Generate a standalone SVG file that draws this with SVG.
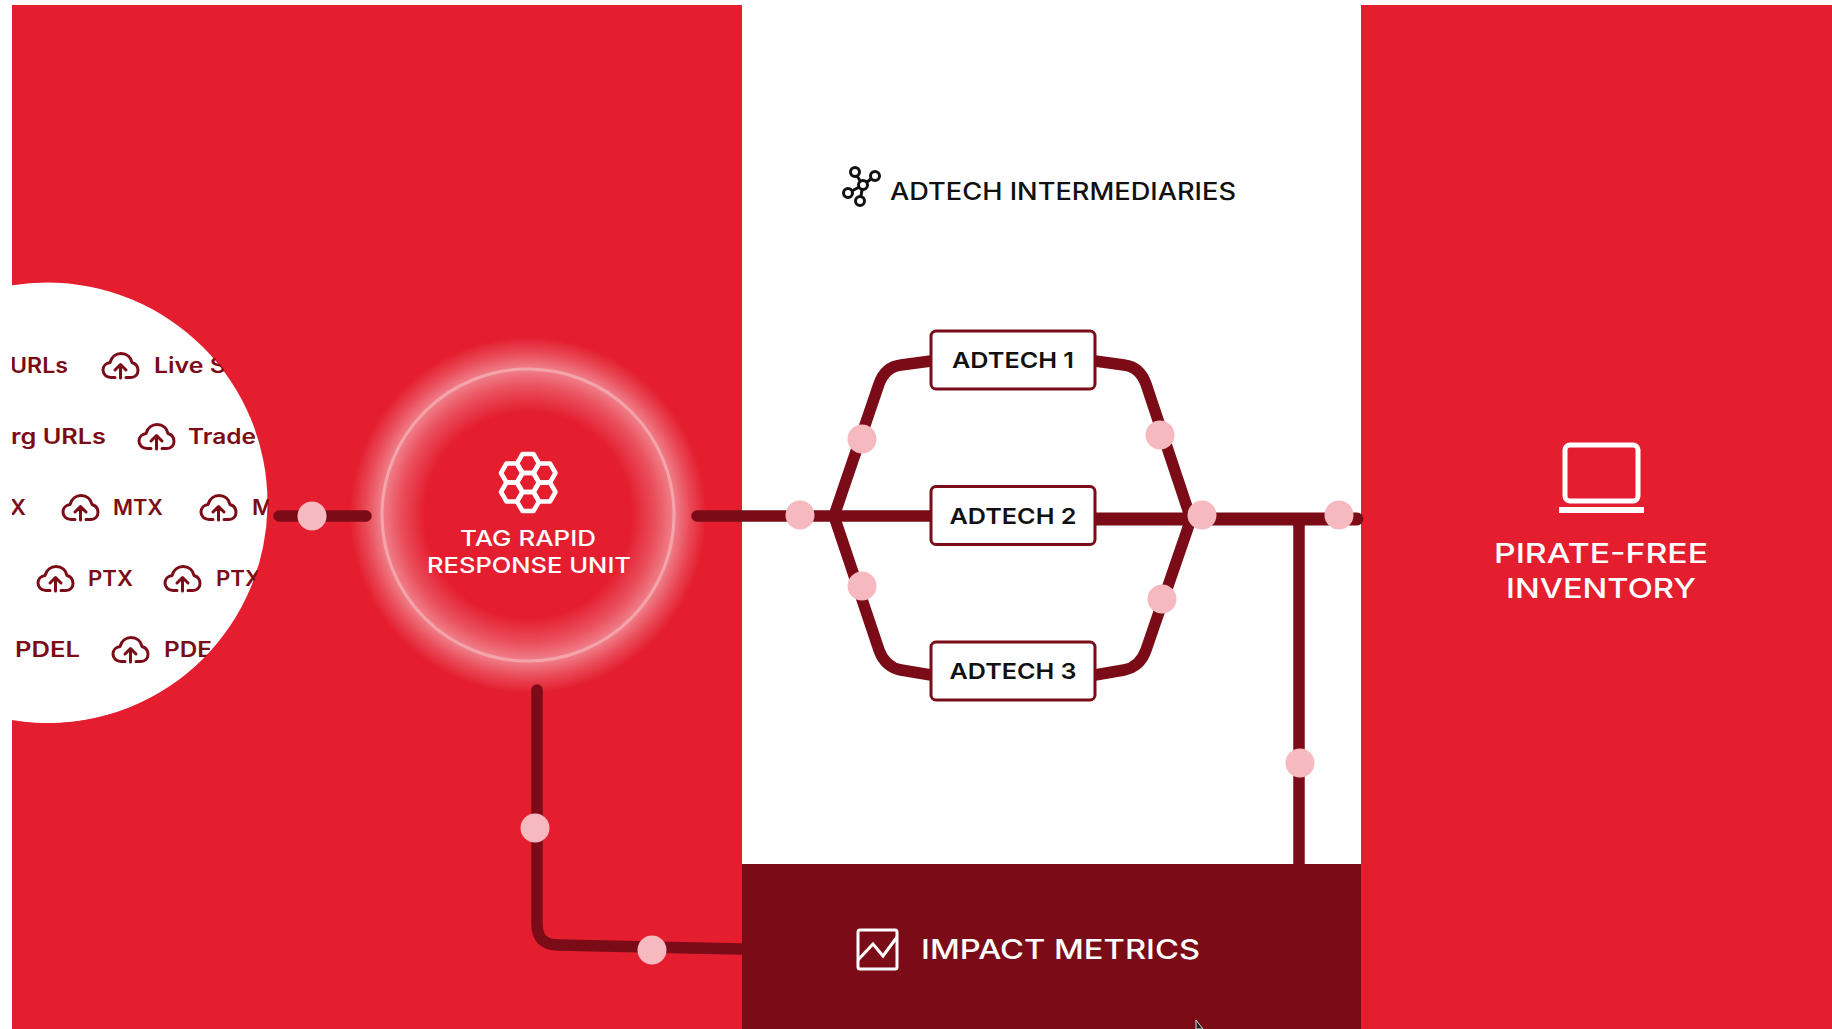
<svg xmlns="http://www.w3.org/2000/svg" width="1832" height="1029" viewBox="0 0 1832 1029">
<style>
text{font-family:Inter,"Liberation Sans",sans-serif;font-weight:500}
.tag{fill:#7b0c17;font-size:21px;font-weight:600}
.cl{fill:none;stroke:#7b0c17;stroke-width:3;stroke-linecap:round;stroke-linejoin:round}
.wire{fill:none;stroke:#7b0c17;stroke-width:11.500;stroke-linecap:round;stroke-linejoin:round}
.dot{fill:#f5b9bf}
.box{fill:#fff;stroke:#7b0c17;stroke-width:3}
.boxt{fill:#111;font-size:22px;font-weight:600;text-anchor:middle}
.wt{fill:#fff;text-anchor:middle}
.ico{fill:none;stroke:#fff;stroke-width:3.500;stroke-linejoin:round}
</style>
<defs>
<symbol id="cloud" viewBox="0 0 37 27" width="37" height="27" overflow="visible">
<path class="cl" d="M13 25.500H9C4 25.500 1 22 1 18C1 14 4 11 8 10.500C9.500 5 14 1.500 19 1.500C25 1.500 29 5.500 30 10.500C33.500 11.500 36 14.500 36 18.500C36 22.500 33 25.500 29 25.500H24M18.500 26V13M13 18L18.500 12.500L24 18"/>
</symbol>
<clipPath id="disc"><path d="M12 285A220.500 220.500 0 1 1 12 720Z"/></clipPath>
<radialGradient id="glow" gradientUnits="userSpaceOnUse" cx="528" cy="515" r="178">
<stop offset=".58" stop-color="#f8c3c8" stop-opacity="0"/>
<stop offset=".72" stop-color="#f8c3c8" stop-opacity=".3"/>
<stop offset=".82" stop-color="#f8c3c8" stop-opacity=".6"/>
<stop offset=".91" stop-color="#f8c3c8" stop-opacity=".27"/>
<stop offset="1" stop-color="#f8c3c8" stop-opacity="0"/>
</radialGradient>
</defs>
<rect width="1832" height="1029" fill="#fff"/>
<rect x="12" y="5" width="730" height="1024" fill="#e41e2f"/>
<rect x="1361" y="5" width="471" height="1024" fill="#e41e2f"/>

<g id="sources">
<circle cx="47" cy="503" r="220.500" fill="#fff" clip-path="url(#disc)"/>
<g clip-path="url(#disc)">
<text class="tag" x="10" y="373" textLength="58" lengthAdjust="spacingAndGlyphs">URLs</text>
<use href="#cloud" x="102" y="352"/>
<text class="tag" x="154" y="373" textLength="72" lengthAdjust="spacingAndGlyphs">Live S</text>
<text class="tag" x="11" y="444" textLength="95" lengthAdjust="spacingAndGlyphs">rg URLs</text>
<use href="#cloud" x="138" y="423"/>
<text class="tag" x="188" y="444" textLength="68" lengthAdjust="spacingAndGlyphs">Trade</text>
<text class="tag" x="10" y="515" textLength="16" lengthAdjust="spacingAndGlyphs">X</text>
<use href="#cloud" x="62" y="494"/>
<text class="tag" x="113" y="515" textLength="50" lengthAdjust="spacingAndGlyphs">MTX</text>
<use href="#cloud" x="200" y="494"/>
<text class="tag" x="252" y="515" textLength="21" lengthAdjust="spacingAndGlyphs">M</text>
<use href="#cloud" x="37" y="565"/>
<text class="tag" x="88" y="586" textLength="45" lengthAdjust="spacingAndGlyphs">PTX</text>
<use href="#cloud" x="164" y="565"/>
<text class="tag" x="216" y="586" textLength="45" lengthAdjust="spacingAndGlyphs">PTX</text>
<text class="tag" x="15" y="657" textLength="65" lengthAdjust="spacingAndGlyphs">PDEL</text>
<use href="#cloud" x="112" y="636"/>
<text class="tag" x="164" y="657" textLength="48" lengthAdjust="spacingAndGlyphs">PDE</text>
</g>
</g>

<g id="rapid-response">
<circle cx="528" cy="515" r="178" fill="url(#glow)"/>
<circle cx="528" cy="515" r="146" fill="none" stroke="#f4a4ab" stroke-width="3"/>
<g fill="none" stroke="#fff" stroke-width="4.500" stroke-linejoin="round">
<path d="M517 482.500L522.500 473H533.500L539 482.500L533.500 492H522.500Z"/>
<path d="M517 463.500L522.500 454H533.500L539 463.500L533.500 473H522.500Z"/>
<path d="M517 501.500L522.500 492H533.500L539 501.500L533.500 511H522.500Z"/>
<path d="M501 473L506.500 463.500H517L522.500 473L517 482.500H506.500Z"/>
<path d="M533.500 473L539 463.500H550L555.500 473L550 482.500H539Z"/>
<path d="M501 492L506.500 482.500H517L522.500 492L517 501.500H506.500Z"/>
<path d="M533.500 492L539 482.500H550L555.500 492L550 501.500H539Z"/>
</g>
<text class="wt" x="528" y="546" font-size="21.500" textLength="136" lengthAdjust="spacingAndGlyphs">TAG RAPID</text>
<text class="wt" x="529" y="573" font-size="21.500" textLength="204" lengthAdjust="spacingAndGlyphs">RESPONSE UNIT</text>
</g>

<g id="connectors">
<path class="wire" d="M279 516H366"/>
<path class="wire" d="M697 516H931"/>
<path class="wire" style="stroke-width:13" d="M1095 519H1357"/>
<path class="wire" style="stroke-linecap:butt" d="M1299 519V920"/>
<path class="wire" d="M834 516L879 384Q885 367 901 365L931 361"/>
<path class="wire" d="M834 516L879 650Q885 667 901 670L931 675"/>
<path class="wire" d="M1191 519L1146 384Q1140 367 1124 365L1095 361"/>
<path class="wire" d="M1191 519L1146 650Q1140 667 1124 670L1095 675"/>
<path class="wire" d="M537 690V924Q537 945 558 945L741 949"/>
</g>

<g id="connector-dots">
<circle class="dot" cx="312" cy="516" r="14.500"/>
<circle class="dot" cx="800" cy="515" r="14.500"/>
<circle class="dot" cx="862" cy="439" r="14.500"/>
<circle class="dot" cx="862" cy="586" r="14.500"/>
<circle class="dot" cx="1160" cy="435" r="14.500"/>
<circle class="dot" cx="1162" cy="599" r="14.500"/>
<circle class="dot" cx="1202" cy="515" r="14.500"/>
<circle class="dot" cx="1339" cy="515" r="14.500"/>
<circle class="dot" cx="1300" cy="763" r="14.500"/>
<circle class="dot" cx="535" cy="828" r="14.500"/>
<circle class="dot" cx="652" cy="950" r="14.500"/>
</g>

<g id="adtech-header">
<g fill="none" stroke="#111" stroke-width="3">
<path d="M863 185L855 173M863 185L875 176M863 185L848 193M863 185L860 201"/>
<circle cx="863" cy="185" r="4.500" fill="#fff"/>
<circle cx="855" cy="172" r="4.500" fill="#fff"/>
<circle cx="875" cy="176" r="4.500" fill="#fff"/>
<circle cx="848" cy="193" r="4.500" fill="#fff"/>
<circle cx="860" cy="201" r="4.500" fill="#fff"/>
</g>
<text x="890" y="200" fill="#111" font-size="24" textLength="346" lengthAdjust="spacingAndGlyphs">ADTECH INTERMEDIARIES</text>
</g>

<g id="adtech-1"><rect class="box" x="931" y="331" width="164" height="58" rx="5"/><text class="boxt" x="1013" y="368" textLength="122" lengthAdjust="spacingAndGlyphs">ADTECH 1</text></g>
<g id="adtech-2"><rect class="box" x="931" y="486.500" width="164" height="58" rx="5"/><text class="boxt" x="1013" y="524" textLength="127" lengthAdjust="spacingAndGlyphs">ADTECH 2</text></g>
<g id="adtech-3"><rect class="box" x="931" y="642" width="164" height="58" rx="5"/><text class="boxt" x="1013" y="679" textLength="127" lengthAdjust="spacingAndGlyphs">ADTECH 3</text></g>

<g id="impact-metrics">
<rect x="742" y="864" width="619" height="165" fill="#7b0c17"/>
<rect x="858" y="930" width="39" height="39" rx="2" fill="none" stroke="#fff" stroke-width="3"/>
<path d="M858 960L873 944L883 956L897 937" fill="none" stroke="#fff" stroke-width="3"/>
<text x="921" y="959" fill="#fff" font-size="27" textLength="279" lengthAdjust="spacingAndGlyphs">IMPACT METRICS</text>
<path d="M1196 1020V1029H1203Z" fill="#222" stroke="#ddd" stroke-width="1"/>
</g>

<g id="pirate-free">
<rect x="1565" y="445" width="73" height="56" rx="5" class="ico" style="stroke-width:5"/>
<rect x="1559" y="507" width="85" height="6" fill="#fff"/>
<text class="wt" x="1601" y="563" font-size="27.500" textLength="214" lengthAdjust="spacingAndGlyphs">PIRATE-FREE</text>
<text class="wt" x="1601" y="598" font-size="27.500" textLength="190" lengthAdjust="spacingAndGlyphs">INVENTORY</text>
</g>
</svg>
